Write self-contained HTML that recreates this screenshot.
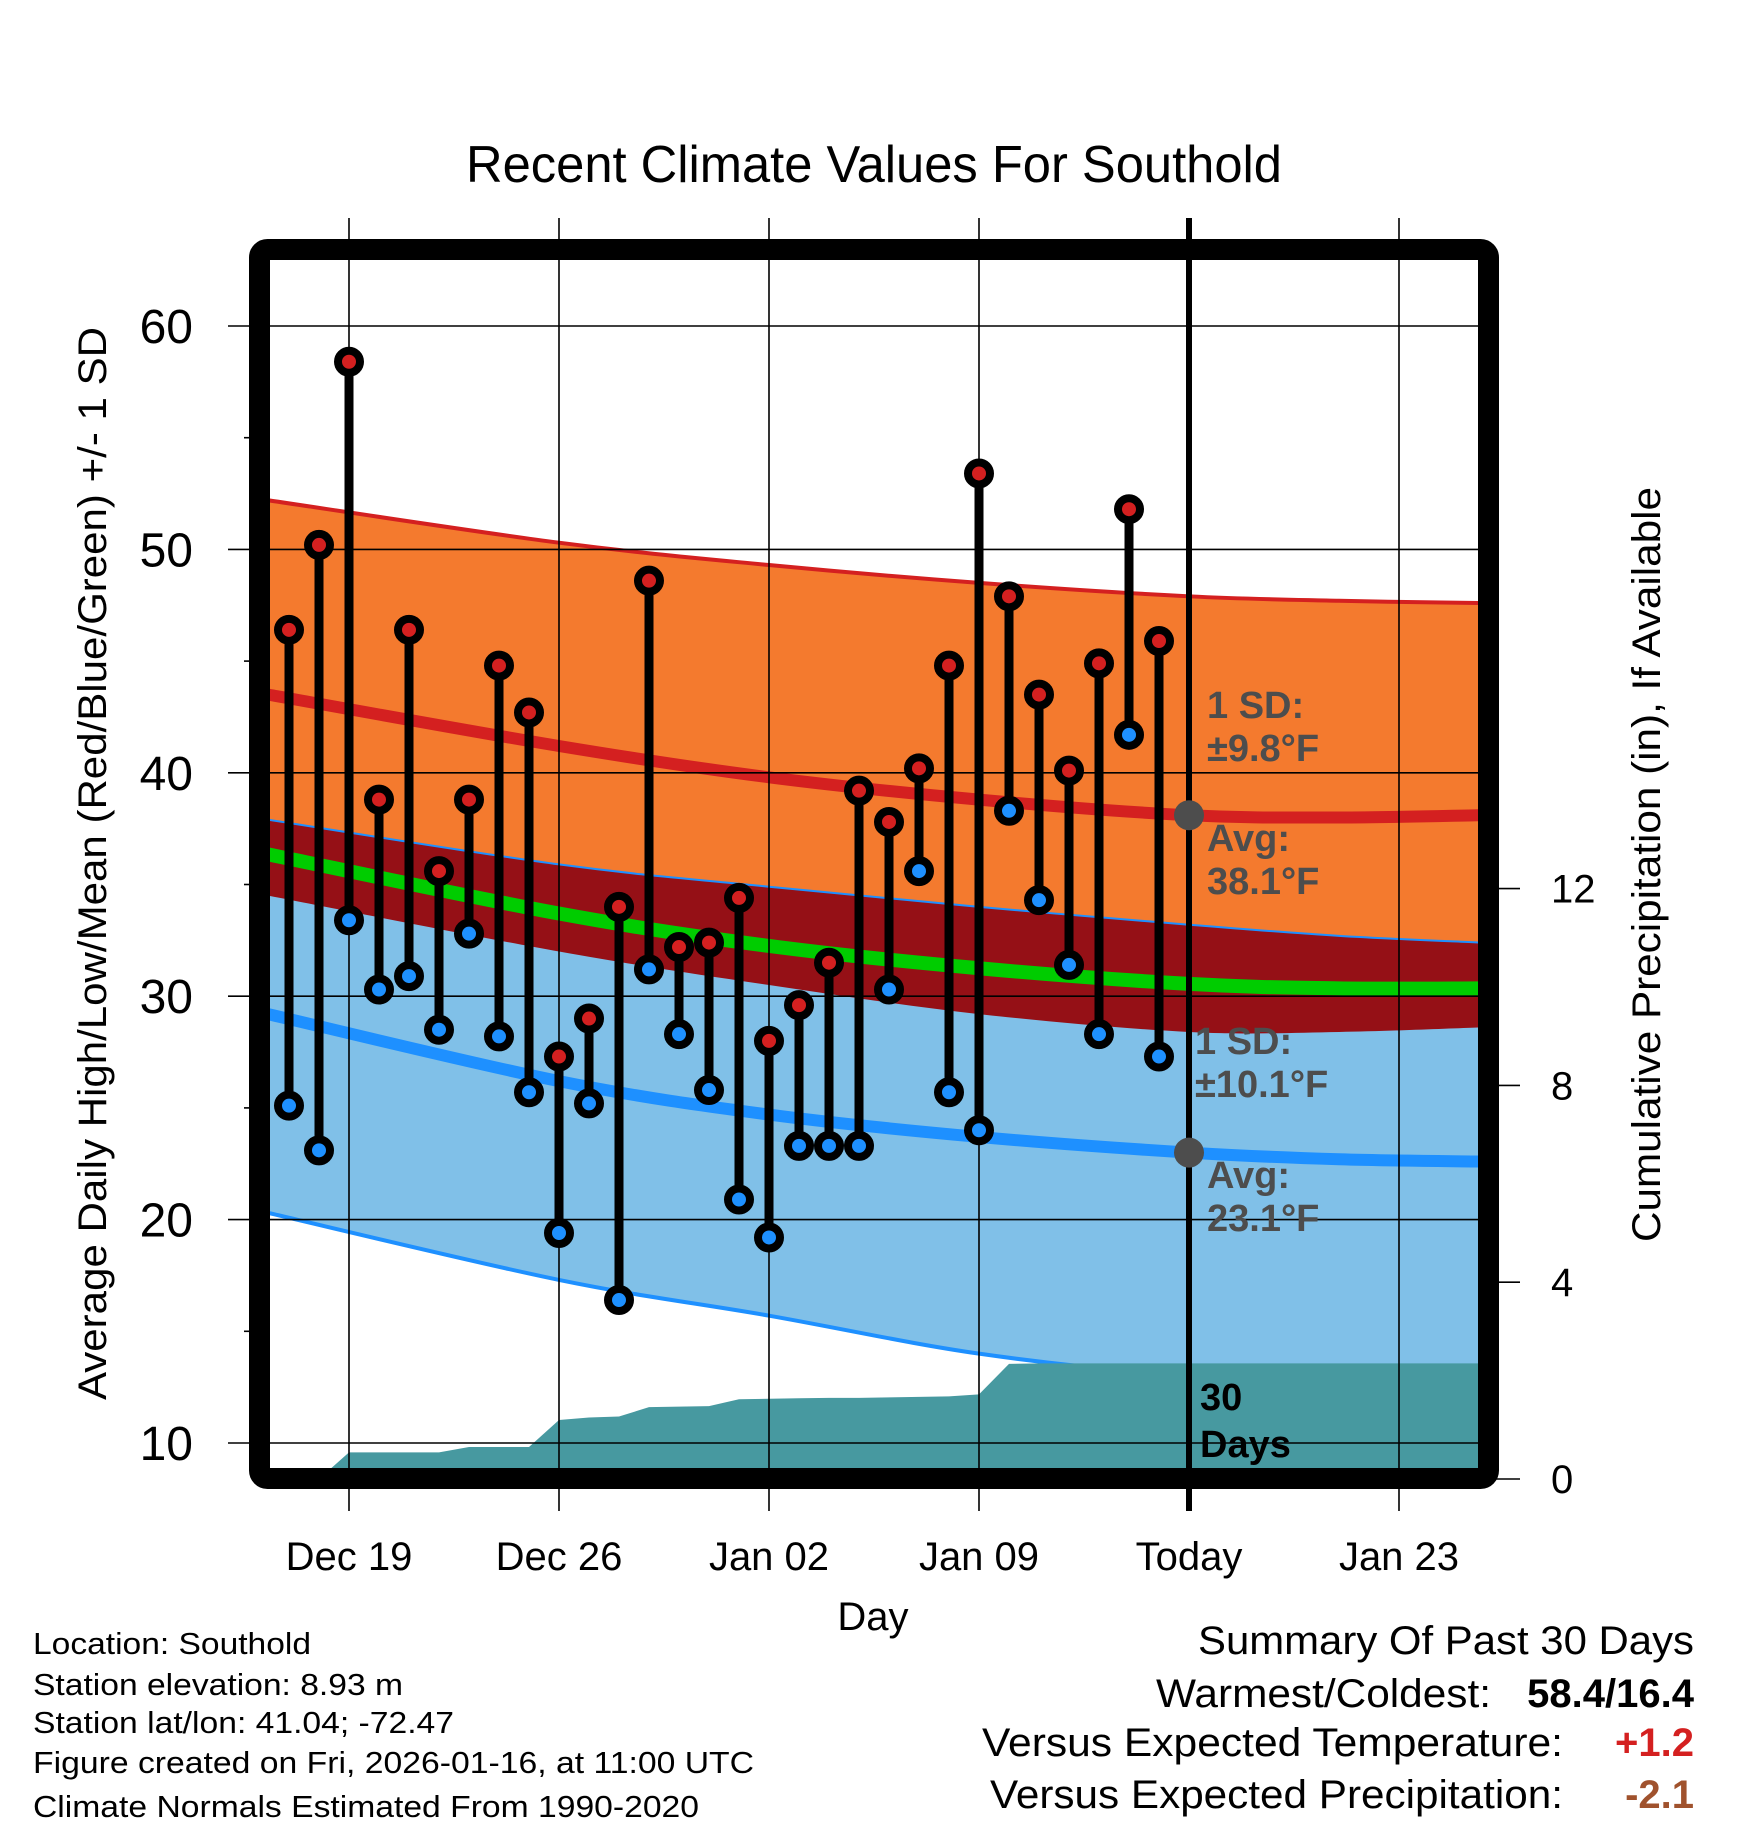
<!DOCTYPE html>
<html><head><meta charset="utf-8"><style>
html,body{margin:0;padding:0;background:#fff;}
svg{display:block;font-family:"Liberation Sans",sans-serif;}
</style></head><body>
<svg id="chart" width="1748" height="1828" viewBox="0 0 1748 1828" xmlns="http://www.w3.org/2000/svg">
<defs><clipPath id="plotClip"><rect x="270" y="260" width="1208" height="1208"/></clipPath></defs>
<rect width="1748" height="1828" fill="#fff"/>
<text x="466" y="182" font-size="52" textLength="816" lengthAdjust="spacingAndGlyphs">Recent Climate Values For Southold</text>
<g id="plot" clip-path="url(#plotClip)"></g>
<text transform="translate(106,1400) rotate(-90)" font-size="40" textLength="1073" lengthAdjust="spacingAndGlyphs">Average Daily High/Low/Mean (Red/Blue/Green) +/- 1 SD</text>
<text transform="translate(1660,1242) rotate(-90)" font-size="40" textLength="755" lengthAdjust="spacingAndGlyphs">Cumulative Precipitation (in), If Available</text>
<text x="873" y="1630" font-size="40" text-anchor="middle">Day</text>
<g font-size="31">
<text x="33" y="1654" textLength="278" lengthAdjust="spacingAndGlyphs">Location: Southold</text>
<text x="33" y="1695" textLength="370" lengthAdjust="spacingAndGlyphs">Station elevation: 8.93 m</text>
<text x="33" y="1733" textLength="421" lengthAdjust="spacingAndGlyphs">Station lat/lon: 41.04; -72.47</text>
<text x="33" y="1773" textLength="721" lengthAdjust="spacingAndGlyphs">Figure created on Fri, 2026-01-16, at 11:00 UTC</text>
<text x="33" y="1817" textLength="666" lengthAdjust="spacingAndGlyphs">Climate Normals Estimated From 1990-2020</text>
</g>
<g font-size="40">
<text x="1198" y="1654" textLength="496" lengthAdjust="spacingAndGlyphs">Summary Of Past 30 Days</text>
<text x="1156" y="1707" textLength="335" lengthAdjust="spacingAndGlyphs">Warmest/Coldest:</text>
<text x="1694" y="1707" text-anchor="end" font-weight="bold">58.4/16.4</text>
<text x="982" y="1756" textLength="581" lengthAdjust="spacingAndGlyphs">Versus Expected Temperature:</text>
<text x="1694" y="1756" text-anchor="end" font-weight="bold" fill="#D42020">+1.2</text>
<text x="990" y="1808" textLength="573" lengthAdjust="spacingAndGlyphs">Versus Expected Precipitation:</text>
<text x="1694" y="1808" text-anchor="end" font-weight="bold" fill="#A0522D">-2.1</text>
</g>
</svg>
<script>
// Day index 0 = Dec 17; Today (Jan 16) = 30
const dayLabels = ["Dec 19","Dec 26","Jan 02","Jan 09","Today","Jan 23"];
const dayTicks = [2,9,16,23,30,37];
const tempTicks = [10,20,30,40,50,60];
const precipTicks = [0,4,8,12];
const highs = [46.4,50.2,58.4,38.8,46.4,35.6,38.8,44.8,42.7,27.3,29.0,34.0,48.6,32.2,32.4,34.4,28.0,29.6,31.5,39.2,37.8,40.2,44.8,53.4,47.9,43.5,40.1,44.9,51.8,45.9];
const lows = [25.1,23.1,33.4,30.3,30.9,28.5,32.8,28.2,25.7,19.4,25.2,16.4,31.2,28.3,25.8,20.9,19.2,23.3,23.3,23.3,30.3,35.6,25.7,24.0,38.3,34.3,31.4,28.3,41.7,27.3];
const precipCum = [0,0,0.54,0.54,0.54,0.54,0.65,0.65,0.65,1.2,1.25,1.27,1.46,1.47,1.48,1.62,1.63,1.64,1.65,1.65,1.66,1.67,1.68,1.72,2.34,2.35,2.35,2.35,2.35,2.35];
const normDays = [-0.7,9,16,23,30,35,39.7];
const highAvg = [43.5,41.2,39.8,38.8,38.1,38.0,38.1];
const highUpper = [52.2,50.3,49.3,48.5,47.9,47.7,47.6];
const highLower = [34.5,32.0,30.5,29.2,28.4,28.4,28.6];
const lowAvg = [29.2,26.2,24.7,23.7,23.0,22.7,22.6];
const lowUpper = [37.9,35.9,34.9,34.0,33.2,32.7,32.4];
const lowLower = [20.3,17.3,15.7,14.0,13.0,12.8,12.8];

const NS = "http://www.w3.org/2000/svg";
const svg = document.getElementById('chart');
const plot = document.getElementById('plot');
const X0 = 289, DX = 30;
const xS = d => X0 + d*DX;
const yT = t => 326 + (60 - t)*22.34;
const yP = p => 1479 - p*49.2;
function mk(tag, attrs, parent){
  const e = document.createElementNS(NS, tag);
  for (const k in attrs) e.setAttribute(k, attrs[k]);
  (parent||svg).appendChild(e); return e;
}
function pts(days, vals){ return days.map((d,i)=>[xS(d), yT(vals[i])]); }
function smooth(p){
  let s = "M"+p[0][0]+","+p[0][1];
  for (let i=0;i<p.length-1;i++){
    const p0=p[Math.max(i-1,0)],p1=p[i],p2=p[i+1],p3=p[Math.min(i+2,p.length-1)];
    const c1=[p1[0]+(p2[0]-p0[0])/6,p1[1]+(p2[1]-p0[1])/6];
    const c2=[p2[0]-(p3[0]-p1[0])/6,p2[1]-(p3[1]-p1[1])/6];
    s+=" C"+c1+" "+c2+" "+p2;
  }
  return s;
}
function band(up, lo){
  const a = pts(normDays, up), b = pts(normDays, lo).reverse();
  return smooth(a) + " L" + b[0] + smooth(b).replace(/^M[^C]*/, " ") + " Z";
}
const bOr = mk('path',{d:band(highUpper, highLower), fill:'#F47A2E'}, plot);
 
const bBl = mk('path',{d:band(lowUpper, lowLower), fill:'#80C0E8'}, plot);
 
const bOv = mk('path',{d:band(lowUpper, highLower), fill:'#951016'}, plot);
 
const meanVals = highAvg.map((h,i)=>(h+lowAvg[i])/2);
const lines = [
  [highUpper,'#D42020',4,'high-upper-line'],
  [highAvg,'#D42020',12,'avg-high-line'],
  [lowUpper,'#1E90FF',2,'low-upper-line'],
  [meanVals,'#00CC00',14,'mean-line'],
  [lowAvg,'#1E90FF',12,'avg-low-line'],
  [lowLower,'#1E90FF',4,'low-lower-line']
];
lines.forEach(l=>{
  const e = mk('path',{d:smooth(pts(normDays,l[0])), fill:'none', stroke:l[1], 'stroke-width':l[2]}, plot);
  
  
});
let pd = "M"+xS(0)+","+yP(0);
precipCum.forEach((p,i)=>{ pd += " L"+xS(i)+","+yP(p); });
pd += " L"+xS(40)+","+yP(precipCum[precipCum.length-1])+" L"+xS(40)+","+yP(0)+" Z";
const pa = mk('path',{d:pd, fill:'#4799A0'}, plot);
 
tempTicks.forEach(t=>{
  const g = mk('line',{x1:228,x2:1478,y1:yT(t),y2:yT(t),stroke:'#000','stroke-width':1.6});
   
  const tl = mk('text',{x:193,y:yT(t)+17,'font-size':48,'text-anchor':'end'});
  tl.textContent = t;
   
});
[15,25,35,45,55].forEach(t=>{
  const m = mk('line',{x1:244,x2:260,y1:yT(t),y2:yT(t),stroke:'#000','stroke-width':1.6});
   
});
dayTicks.forEach((d,i)=>{
  const g = mk('line',{x1:xS(d),x2:xS(d),y1:218,y2:1511,stroke:'#000','stroke-width':d===30?6:1.6});
   
  const tl = mk('text',{x:xS(d),y:1570,'font-size':40,'text-anchor':'middle'});
  tl.textContent = dayLabels[i];
   
});
precipTicks.forEach(p=>{
  const t = mk('line',{x1:1490,x2:1520,y1:yP(p),y2:yP(p),stroke:'#000','stroke-width':1.6});
   
  const tl = mk('text',{x:1551,y:yP(p)+14,'font-size':40});
  tl.textContent = p;
   
});
const fr = mk('rect',{x:259.5,y:249.5,width:1229,height:1229,rx:8,fill:'none',stroke:'#000','stroke-width':21});
 
highs.forEach((h,i)=>{
  const st = mk('line',{x1:xS(i),x2:xS(i),y1:yT(h),y2:yT(lows[i]),stroke:'#000','stroke-width':9});
   
});
highs.forEach((h,i)=>{
  const a = mk('circle',{cx:xS(i),cy:yT(h),r:11,fill:'#D42020',stroke:'#000','stroke-width':8});
   
  const b = mk('circle',{cx:xS(i),cy:yT(lows[i]),r:11,fill:'#1E90FF',stroke:'#000','stroke-width':8});
   
});
const hd = mk('circle',{cx:xS(30),cy:yT(highAvg[4]),r:15,fill:'#4D4D4D'});
 
const ld = mk('circle',{cx:xS(30),cy:yT(lowAvg[4]),r:15,fill:'#4D4D4D'});
 
const ann = [[1207,718,'1 SD:','#4D4D4D'],[1207,761,'±9.8°F','#4D4D4D'],[1207,851,'Avg:','#4D4D4D'],[1207,894,'38.1°F','#4D4D4D'],
 [1195,1054,'1 SD:','#4D4D4D'],[1195,1097,'±10.1°F','#4D4D4D'],[1207,1188,'Avg:','#4D4D4D'],[1207,1231,'23.1°F','#4D4D4D'],
 [1200,1410,'30','#000'],[1200,1457,'Days','#000']];
ann.forEach(a=>{
  const t = mk('text',{x:a[0],y:a[1],'font-size':38,'font-weight':'bold',fill:a[3]});
  t.textContent = a[2];
   
});
</script>
</body></html>
